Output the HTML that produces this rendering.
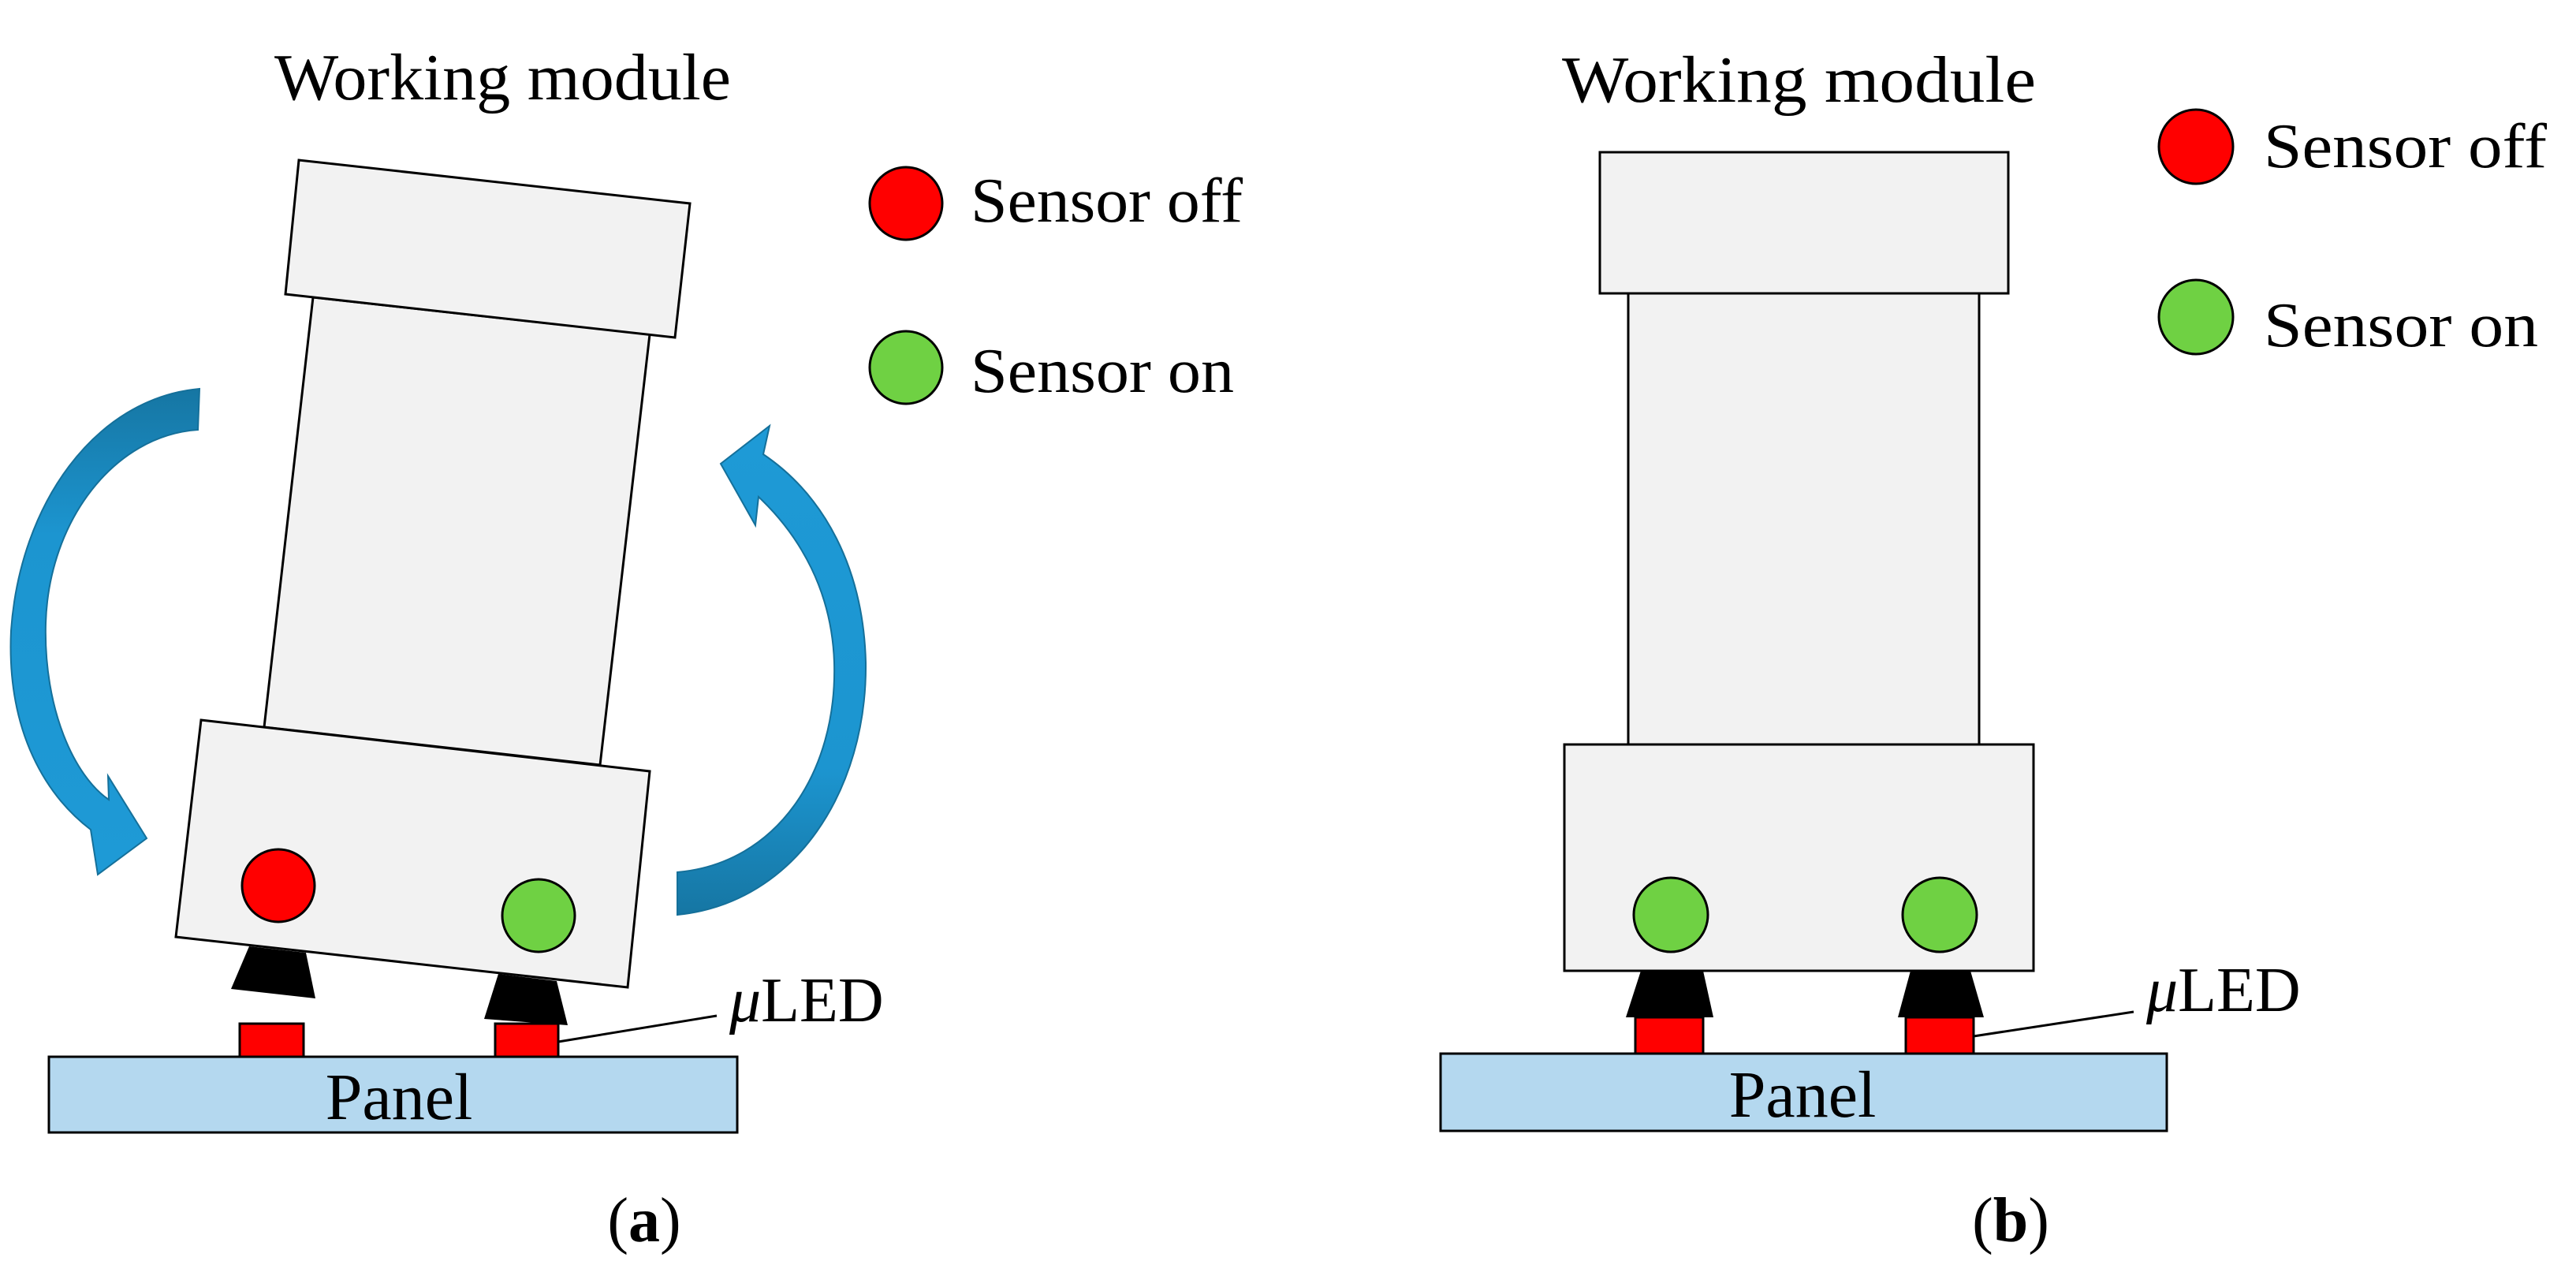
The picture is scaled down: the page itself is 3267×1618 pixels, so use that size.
<!DOCTYPE html>
<html><head><meta charset="utf-8"><style>
html,body{margin:0;padding:0;background:#fff}
svg{display:block}
text{font-family:"Liberation Serif",serif;fill:#000}
</style></head><body>
<svg width="3267" height="1618" viewBox="0 0 3267 1618" xmlns="http://www.w3.org/2000/svg">
<defs>
<linearGradient id="gl" x1="0" y1="0" x2="0" y2="1">
<stop offset="0" stop-color="#1676a3"/><stop offset="0.3" stop-color="#1c95d0"/><stop offset="1" stop-color="#1e9ad6"/></linearGradient>
<linearGradient id="gr" x1="0" y1="1" x2="0" y2="0">
<stop offset="0" stop-color="#1676a3"/><stop offset="0.3" stop-color="#1c95d0"/><stop offset="1" stop-color="#1e9ad6"/></linearGradient>
</defs>
<!-- Panel (a) -->
<text x="348" y="126" font-size="84" textLength="579" lengthAdjust="spacingAndGlyphs">Working module</text>
<path d="M253,493 C120,505 25,640 14,800 C8,930 60,1010 115,1052 L124,1109 L186,1063 L137,984 L138,1014 C95,985 55,900 58,790 C62,660 145,552 251,545 Z" fill="url(#gl)" stroke="#15709a" stroke-width="2"/>
<path d="M859,1160 C1010,1145 1100,1000 1098,840 C1095,720 1045,628 968,576 L976,540 L914,588 L958,666 L962,630 C1015,680 1055,750 1058,840 C1062,980 985,1095 859,1106 Z" fill="url(#gr)" stroke="#15709a" stroke-width="2"/>
<polygon points="397,377 824,424 761,970 335,922" fill="#f2f2f2" stroke="#000" stroke-width="3"/>
<polygon points="379,203 875,258 856,428 362,373" fill="#f2f2f2" stroke="#000" stroke-width="3"/>
<polygon points="255,913 824,978 796,1252 223,1188" fill="#f2f2f2" stroke="#000" stroke-width="3"/>
<circle cx="353" cy="1123" r="46" fill="#ff0000" stroke="#000" stroke-width="3"/>
<circle cx="683" cy="1161" r="46" fill="#6fd143" stroke="#000" stroke-width="3"/>
<polygon points="316,1200 388,1208 400,1266 293,1254" fill="#000"/>
<polygon points="632,1235 706,1244 720,1300 614,1292" fill="#000"/>
<rect x="304" y="1298" width="81" height="43" fill="#ff0000" stroke="#000" stroke-width="3"/>
<rect x="628" y="1298" width="80" height="43" fill="#ff0000" stroke="#000" stroke-width="3"/>
<rect x="62" y="1340" width="873" height="96" fill="#b4d8ef" stroke="#000" stroke-width="3"/>
<line x1="708" y1="1321" x2="909" y2="1288" stroke="#000" stroke-width="3"/>
<text x="925" y="1295" font-size="80"><tspan font-style="italic">μ</tspan>LED</text>
<text x="506" y="1419" font-size="84" text-anchor="middle">Panel</text>
<text x="817" y="1574" font-size="80" text-anchor="middle">(<tspan font-weight="bold">a</tspan>)</text>
<circle cx="1149" cy="258" r="46" fill="#ff0000" stroke="#000" stroke-width="3"/>
<text x="1231" y="281" font-size="80" textLength="345" lengthAdjust="spacingAndGlyphs">Sensor off</text>
<circle cx="1149" cy="466" r="46" fill="#6fd143" stroke="#000" stroke-width="3"/>
<text x="1231" y="497" font-size="80" textLength="334" lengthAdjust="spacingAndGlyphs">Sensor on</text>
<!-- Panel (b) -->
<text x="1981" y="129" font-size="84" textLength="601" lengthAdjust="spacingAndGlyphs">Working module</text>
<rect x="2029" y="193" width="518" height="179" fill="#f2f2f2" stroke="#000" stroke-width="3"/>
<rect x="2065" y="372" width="445" height="572" fill="#f2f2f2" stroke="#000" stroke-width="3"/>
<rect x="1984" y="944" width="595" height="287" fill="#f2f2f2" stroke="#000" stroke-width="3"/>
<circle cx="2119" cy="1160" r="47" fill="#6fd143" stroke="#000" stroke-width="3"/>
<circle cx="2460" cy="1160" r="47" fill="#6fd143" stroke="#000" stroke-width="3"/>
<polygon points="2081,1231 2160,1231 2173,1290 2062,1290" fill="#000"/>
<polygon points="2423,1231 2499,1231 2516,1290 2407,1290" fill="#000"/>
<rect x="2074" y="1290" width="86" height="48" fill="#ff0000" stroke="#000" stroke-width="3"/>
<rect x="2417" y="1290" width="86" height="48" fill="#ff0000" stroke="#000" stroke-width="3"/>
<rect x="1827" y="1336" width="921" height="98" fill="#b4d8ef" stroke="#000" stroke-width="3"/>
<line x1="2503" y1="1314" x2="2706" y2="1283" stroke="#000" stroke-width="3"/>
<text x="2722" y="1282" font-size="80"><tspan font-style="italic">μ</tspan>LED</text>
<text x="2286" y="1416" font-size="84" text-anchor="middle">Panel</text>
<text x="2550" y="1574" font-size="80" text-anchor="middle">(<tspan font-weight="bold">b</tspan>)</text>
<circle cx="2785" cy="186" r="47" fill="#ff0000" stroke="#000" stroke-width="3"/>
<text x="2871" y="212" font-size="80" textLength="359" lengthAdjust="spacingAndGlyphs">Sensor off</text>
<circle cx="2785" cy="402" r="47" fill="#6fd143" stroke="#000" stroke-width="3"/>
<text x="2871" y="439" font-size="80" textLength="348" lengthAdjust="spacingAndGlyphs">Sensor on</text>
</svg>
</body></html>
